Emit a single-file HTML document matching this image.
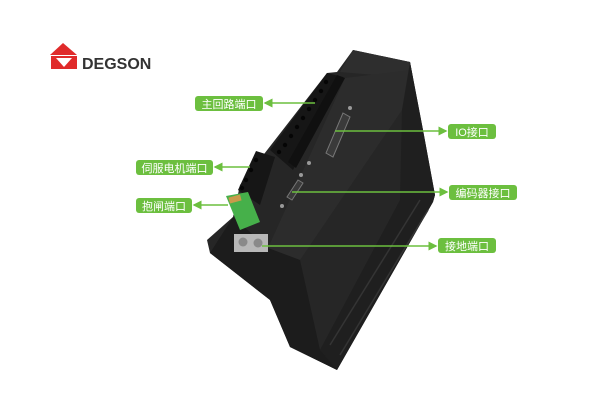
<!DOCTYPE html>
<html><head><meta charset="utf-8"><style>
html,body{margin:0;padding:0;background:#fff;}
svg{display:block}
text{font-family:"Liberation Sans","Noto Sans CJK SC",sans-serif;}
</style></head><body>
<svg width="610" height="402" viewBox="0 0 610 402" xmlns="http://www.w3.org/2000/svg">
<defs>
<marker id="a" markerWidth="6" markerHeight="6" refX="5" refY="3" orient="auto"><path d="M0,0 L6,3 L0,6 z" fill="#6cbf3f"/></marker>
</defs>
<!-- logo -->
<path d="M50,55 L63,43 L77,55 Z" fill="#e02a2a"/>
<rect x="51" y="56" width="26" height="13" fill="#e02a2a"/>
<path d="M56,58 L72,58 L64,67 Z" fill="#fff"/>
<text x="82" y="69" font-size="16" font-weight="bold" fill="#333">DEGSON</text>
<!-- device body -->
<path d="M353,50 L410,62 L423,130 L435,195 L433,202 L337,370 L290,347 L270,300 L210,253 L207,240 L233,217 L240,185 L327,73 L337,72 Z" fill="#262626"/>
<!-- top face -->
<path d="M353,50 L410,62 L413,78 L340,72 Z" fill="#2e2e2e"/>
<!-- front face lighter -->
<path d="M345,78 L410,70 L402,110 L300,260 L268,248 Z" fill="#2c2c2c"/>
<!-- right side face -->
<path d="M410,62 L423,130 L435,195 L433,202 L337,370 L320,350 L400,200 L402,110 Z" fill="#1f1f1f"/>
<!-- left dark face -->
<path d="M210,253 L233,217 L268,248 L300,260 L320,350 L337,370 L290,347 L270,300 Z" fill="#1c1c1c"/>
<g stroke="#343434" stroke-width="1.5">
<path d="M330,345 L420,200 M340,355 L428,210"/>
</g>
<!-- main terminal block -->
<path d="M327,73 L343,77 L293,170 L270,150 Z" fill="#161616"/>
<path d="M337,75 L345,78 L296,168 L288,162 Z" fill="#101010"/>
<g fill="#050505">
<circle cx="326" cy="82" r="2.2"/><circle cx="321" cy="91" r="2.2"/><circle cx="315" cy="100" r="2.2"/><circle cx="309" cy="109" r="2.2"/><circle cx="303" cy="118" r="2.2"/><circle cx="297" cy="127" r="2.2"/><circle cx="291" cy="136" r="2.2"/><circle cx="285" cy="145" r="2.2"/><circle cx="279" cy="152" r="2.2"/>
</g>
<!-- second terminal block -->
<path d="M256,151 L275,157 L260,205 L238,190 Z" fill="#161616"/>
<g fill="#050505">
<circle cx="256" cy="160" r="2.2"/><circle cx="251" cy="170" r="2.2"/><circle cx="246" cy="180" r="2.2"/><circle cx="242" cy="188" r="2.2"/>
</g>
<!-- DB connectors -->
<path d="M343,113 L350,117 L333,157 L326,153 Z" fill="#3a3a3a" stroke="#777" stroke-width="1"/>
<path d="M298,180 L303,183 L292,200 L287,197 Z" fill="#3a3a3a" stroke="#777" stroke-width="1"/>
<g fill="#999"><circle cx="350" cy="108" r="2"/><circle cx="309" cy="163" r="2"/><circle cx="301" cy="175" r="2"/><circle cx="282" cy="206" r="2"/></g>
<!-- green brake connector -->
<path d="M226,196 L248,192 L260,222 L240,230 Z" fill="#46b04a"/>
<rect x="229" y="196" width="12" height="6" fill="#c99a4a" transform="rotate(-15 235 199)"/>
<!-- ground -->
<rect x="234" y="234" width="34" height="18" fill="#b8b8b8"/>
<circle cx="243" cy="242" r="4.5" fill="#8a8a8a"/><circle cx="258" cy="243" r="4.5" fill="#8a8a8a"/>
<!-- connector lines -->
<g stroke="#6cbf3f" stroke-width="1.5" fill="none">
<line x1="315" y1="103" x2="265" y2="103" marker-end="url(#a)"/>
<line x1="250" y1="167" x2="215" y2="167" marker-end="url(#a)"/>
<line x1="228" y1="205" x2="194" y2="205" marker-end="url(#a)"/>
<line x1="335" y1="131" x2="446" y2="131" marker-end="url(#a)"/>
<line x1="292" y1="192" x2="447" y2="192" marker-end="url(#a)"/>
<line x1="262" y1="246" x2="436" y2="246" marker-end="url(#a)"/>
</g>
<!-- labels -->
<g fill="#6cbf3f">
<rect x="195" y="96" width="68" height="15" rx="3"/>
<rect x="136" y="160" width="77" height="15" rx="3"/>
<rect x="136" y="198" width="56" height="15" rx="3"/>
<rect x="448" y="124" width="48" height="15" rx="3"/>
<rect x="449" y="185" width="68" height="15" rx="3"/>
<rect x="438" y="238" width="58" height="15" rx="3"/>
</g>
<g fill="#fff" font-size="11" text-anchor="middle">
<text x="229" y="108">主回路端口</text>
<text x="174.5" y="172">伺服电机端口</text>
<text x="164" y="210">抱闸端口</text>
<text x="472" y="136">IO接口</text>
<text x="483" y="197">编码器接口</text>
<text x="467" y="250">接地端口</text>
</g>
</svg>
</body></html>
